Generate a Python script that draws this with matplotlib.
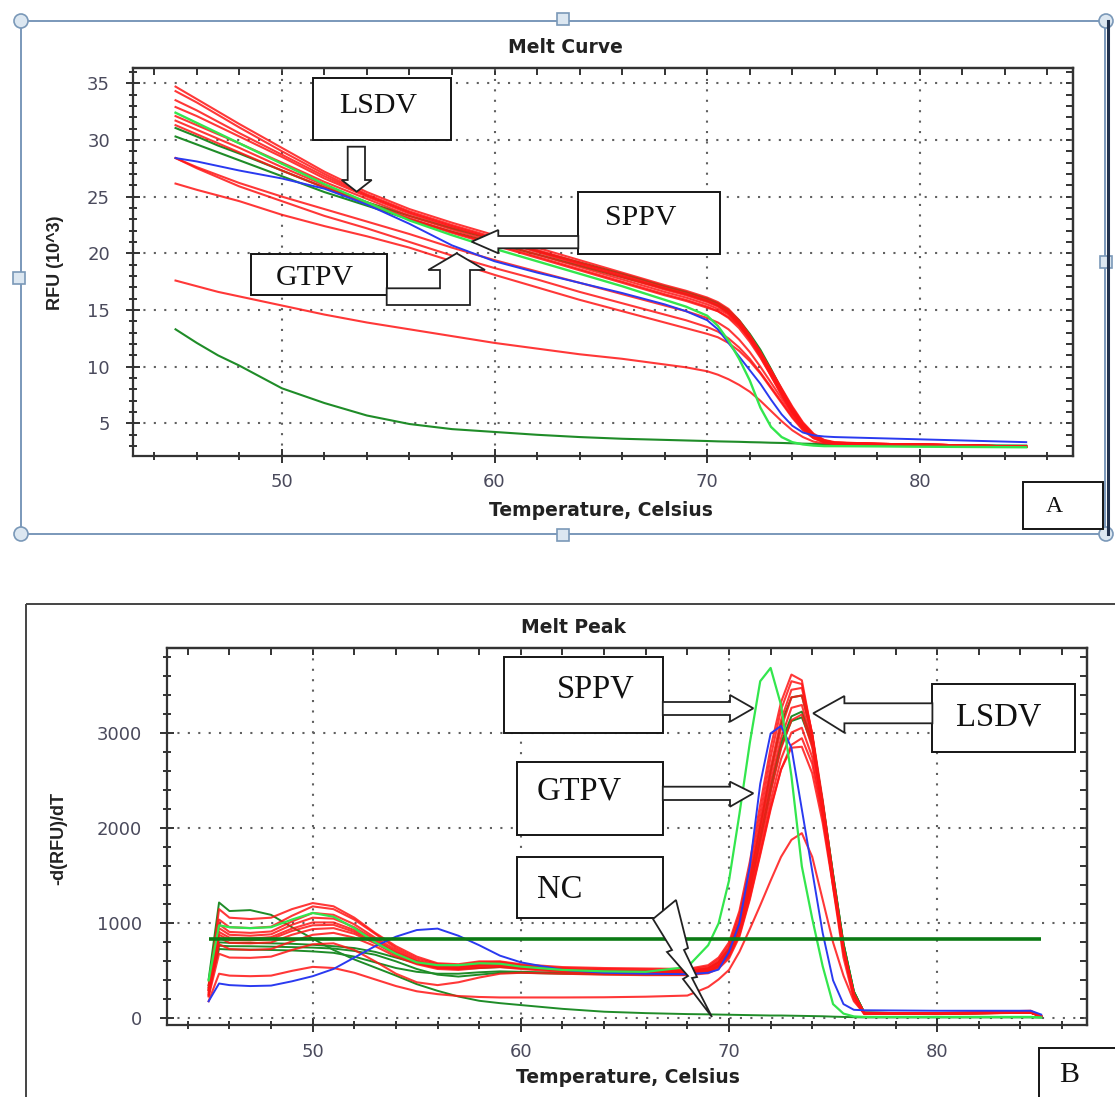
import matplotlib
matplotlib.use("Agg")
import matplotlib.pyplot as plt
from matplotlib.patches import Rectangle, Polygon, Circle
from matplotlib.ticker import MultipleLocator, FixedLocator

# ---------------- data ----------------
# A: melt curve, RFU (10^3) vs temperature
T_A = [45, 46, 47, 48, 50, 52, 54, 56, 58, 60, 62, 64, 66, 68, 69, 70, 70.5, 71,
       71.5, 72, 72.5, 73, 73.5, 74, 74.5, 75, 75.5, 76, 78, 80, 85]

lsdv_a = [
    [34.7, 33.6, 32.5, 31.4, 29.3, 27.2, 25.4, 23.9, 22.7, 21.6, 20.5, 19.4, 18.3, 17.2, 16.7, 16.1, 15.7, 15.1, 14.1, 12.8, 11.3, 9.6, 7.9, 6.3, 5.0, 4.0, 3.5, 3.3, 3.2, 3.15, 2.95],
    [34.3, 33.3, 32.2, 31.1, 29.0, 27.0, 25.2, 23.7, 22.5, 21.4, 20.3, 19.2, 18.1, 17.0, 16.5, 15.9, 15.5, 14.9, 13.9, 12.6, 11.1, 9.4, 7.7, 6.1, 4.8, 3.9, 3.45, 3.3, 3.2, 3.15, 2.95],
    [33.5, 32.6, 31.6, 30.6, 28.7, 26.8, 25.1, 23.6, 22.4, 21.3, 20.2, 19.1, 18.0, 16.9, 16.4, 15.8, 15.4, 14.8, 13.9, 12.7, 11.3, 9.7, 8.0, 6.4, 5.0, 4.0, 3.5, 3.3, 3.2, 3.15, 2.95],
    [32.9, 32.1, 31.2, 30.3, 28.5, 26.6, 25.0, 23.5, 22.3, 21.2, 20.1, 19.0, 17.9, 16.8, 16.3, 15.7, 15.3, 14.7, 13.7, 12.4, 10.9, 9.2, 7.5, 5.9, 4.7, 3.85, 3.4, 3.25, 3.2, 3.15, 2.95],
    [32.1, 31.3, 30.5, 29.7, 28.0, 26.3, 24.8, 23.3, 22.1, 21.0, 19.9, 18.8, 17.7, 16.6, 16.1, 15.5, 15.1, 14.6, 13.7, 12.5, 11.1, 9.5, 7.8, 6.2, 4.9, 3.95, 3.45, 3.3, 3.2, 3.15, 2.95],
    [31.7, 30.9, 30.1, 29.3, 27.6, 26.0, 24.5, 23.1, 21.9, 20.8, 19.7, 18.6, 17.5, 16.4, 15.9, 15.3, 14.9, 14.3, 13.4, 12.2, 10.8, 9.2, 7.5, 6.0, 4.7, 3.85, 3.4, 3.25, 3.2, 3.15, 2.95],
    [31.3, 30.5, 29.7, 28.9, 27.3, 25.8, 24.4, 23.0, 21.8, 20.7, 19.6, 18.5, 17.4, 16.3, 15.8, 15.2, 14.9, 14.4, 13.6, 12.5, 11.2, 9.7, 8.1, 6.5, 5.1, 4.1, 3.55, 3.35, 3.2, 3.15, 2.95],
    [28.4, 27.6, 26.9, 26.2, 25.0, 23.9, 22.8, 21.7, 20.5, 19.4, 18.4, 17.4, 16.4, 15.4, 14.9, 14.3, 13.9, 13.3, 12.4, 11.3, 10.0, 8.6, 7.2, 5.8, 4.6, 3.8, 3.4, 3.25, 3.2, 3.15, 2.95],
    [28.4, 27.5, 26.7, 25.9, 24.6, 23.3, 22.2, 21.0, 19.8, 18.7, 17.7, 16.6, 15.6, 14.6, 14.1, 13.5, 13.1, 12.5, 11.7, 10.7, 9.5, 8.2, 6.9, 5.6, 4.5, 3.7, 3.35, 3.2, 3.15, 3.1, 2.95],
    [26.15, 25.6, 25.1, 24.6, 23.4, 22.4, 21.5, 20.5, 19.3, 18.1, 17.0, 15.9, 14.9, 13.9, 13.4, 12.9, 12.6, 12.1, 11.4, 10.5, 9.4, 8.1, 6.8, 5.5, 4.4, 3.7, 3.35, 3.2, 3.15, 3.1, 2.95],
    [17.6, 17.1, 16.6, 16.2, 15.4, 14.6, 13.9, 13.3, 12.7, 12.1, 11.6, 11.1, 10.7, 10.2, 9.95, 9.6, 9.3, 8.9, 8.4, 7.8, 7.0, 6.1, 5.2, 4.4, 3.8, 3.4, 3.25, 3.2, 3.15, 3.1, 2.95],
]
dark_green_a = [
    [31.05, 30.3, 29.5, 28.8, 27.3, 25.8, 24.5, 23.3, 22.2, 21.2, 20.2, 19.2, 18.2, 17.1, 16.6, 16.0, 15.6, 15.0, 14.1, 12.9, 11.5, 9.8, 8.0, 6.3, 4.9, 3.9, 3.4, 3.25, 3.15, 3.1, 2.95],
    [30.3, 29.6, 28.9, 28.2, 26.8, 25.4, 24.2, 23.0, 21.9, 20.9, 19.9, 18.9, 17.9, 16.9, 16.4, 15.8, 15.4, 14.8, 13.9, 12.7, 11.3, 9.6, 7.9, 6.2, 4.8, 3.85, 3.4, 3.25, 3.15, 3.1, 2.95],
    [13.3, 12.1, 11.0, 10.1, 8.1, 6.8, 5.7, 4.95, 4.5, 4.25, 4.0, 3.8, 3.65, 3.55, 3.5, 3.45, 3.42, 3.4, 3.38, 3.35, 3.33, 3.3, 3.28, 3.25, 3.22, 3.2, 3.18, 3.15, 3.12, 3.1, 3.05],
]
sppv_a = [32.4, 31.5, 30.6, 29.7, 27.9, 26.1, 24.5, 22.9, 21.6, 20.4, 19.3, 18.2, 17.1, 15.9, 15.3, 14.5, 13.6, 12.3, 10.7, 8.8, 6.4, 4.7, 3.8, 3.35, 3.15, 3.05, 3.0, 3.0, 2.98, 2.95, 2.9]
gtpv_a = [28.4, 28.1, 27.7, 27.3, 26.6, 25.7, 24.3, 22.6, 20.7, 19.3, 18.3, 17.4, 16.5, 15.5, 14.9, 14.1, 13.3, 12.1, 10.9, 9.7, 8.5, 7.1, 5.8, 4.8, 4.2, 3.95, 3.85, 3.8, 3.7, 3.6, 3.35]

# B: melt peak, -d(RFU)/dT vs temperature
T_B = [45, 45.5, 46, 47, 48, 49, 50, 51, 52, 53, 54, 55, 56, 57, 58, 59, 60, 62, 64, 66,
       68, 69, 69.5, 70, 70.5, 71, 71.5, 72, 72.5, 73, 73.5, 74, 74.5, 75, 75.5, 76, 76.5, 80, 84.5, 85]

lsdv_b = [
    [300, 1150, 1060, 1046, 1060, 1150, 1214, 1180, 1060, 900, 760, 650, 580, 570, 600, 600, 570, 540, 530, 525, 520, 560, 640, 800, 1130, 1650, 2250, 2850, 3330, 3620, 3560, 2980, 2200, 1380, 640, 200, 45, 55, 80, 20],
    [350, 1040, 960, 951, 965, 1080, 1179, 1150, 1040, 890, 740, 630, 570, 560, 590, 595, 560, 530, 520, 515, 510, 545, 620, 770, 1090, 1580, 2150, 2750, 3250, 3550, 3520, 2980, 2250, 1450, 700, 230, 50, 55, 75, 20],
    [320, 990, 910, 900, 915, 1020, 1110, 1090, 990, 850, 720, 610, 555, 545, 575, 585, 555, 520, 505, 500, 500, 530, 600, 740, 1040, 1500, 2060, 2640, 3140, 3460, 3480, 3000, 2300, 1500, 750, 250, 55, 50, 70, 20],
    [300, 950, 880, 870, 885, 985, 1060, 1050, 960, 830, 700, 600, 545, 540, 570, 575, 545, 515, 500, 495, 495, 520, 585, 720, 1000, 1450, 2000, 2560, 3050, 3380, 3400, 2950, 2250, 1480, 730, 240, 50, 50, 65, 20],
    [280, 910, 850, 840, 855, 945, 1010, 1010, 930, 810, 690, 590, 540, 535, 560, 570, 540, 510, 495, 490, 490, 515, 575, 700, 970, 1400, 1930, 2480, 2950, 3270, 3300, 2900, 2200, 1450, 720, 240, 50, 50, 65, 20],
    [260, 880, 825, 820, 835, 920, 980, 985, 910, 800, 680, 585, 535, 530, 555, 560, 535, 505, 490, 485, 485, 505, 560, 680, 940, 1350, 1860, 2380, 2840, 3140, 3200, 2850, 2200, 1450, 730, 250, 55, 50, 60, 20],
    [250, 850, 795, 790, 800, 880, 940, 950, 890, 790, 670, 580, 530, 520, 545, 550, 530, 500, 485, 480, 480, 500, 550, 660, 900, 1300, 1790, 2290, 2730, 3010, 3060, 2750, 2150, 1420, 720, 250, 55, 50, 60, 20],
    [230, 680, 640, 637, 650, 720, 780, 790, 720, 600, 470, 380, 350, 380, 430, 470, 480, 470, 460, 455, 455, 475, 525, 630, 860, 1250, 1720, 2200, 2620, 2880, 2950, 2680, 2120, 1420, 720, 260, 60, 50, 60, 20],
    [240, 780, 730, 720, 730, 810, 880, 900, 850, 760, 650, 570, 520, 510, 530, 540, 520, 490, 475, 470, 470, 490, 540, 650, 880, 1270, 1740, 2220, 2620, 2850, 2860, 2580, 2060, 1390, 710, 250, 55, 50, 60, 20],
    [180, 470, 450, 444, 450, 500, 542, 530, 480, 410, 340, 285, 255, 235, 225, 220, 220, 220, 222, 228, 240, 330, 410, 510, 700, 940, 1190, 1450, 1700, 1880, 1950, 1700, 1250, 800, 450, 180, 50, 45, 60, 20],
]
dark_green_b = [
    [410, 1220, 1130, 1140, 1090, 960, 840, 720, 620, 535, 450, 360, 290, 230, 185, 160, 140, 100, 70, 55, 45, 42, 40, 38, 36, 34, 32, 30, 30, 28, 26, 24, 22, 18, 15, 12, 10, 10, 10, 8],
    [350, 800, 795, 794, 790, 785, 775, 760, 740, 700, 640, 580, 540, 520, 530, 540, 530, 510, 500, 495, 495, 525, 590, 730, 1010, 1460, 2020, 2600, 3100, 3380, 3400, 2980, 2280, 1520, 790, 280, 60, 50, 60, 20],
    [330, 765, 760, 759, 755, 750, 745, 735, 710, 670, 600, 520, 460, 440, 460, 480, 480, 470, 465, 460, 460, 490, 550, 680, 940, 1360, 1880, 2400, 2860, 3130, 3170, 2880, 2250, 1500, 780, 280, 60, 50, 60, 20],
    [300, 730, 725, 724, 720, 715, 705, 690, 650, 590, 530, 490, 470, 470, 485, 495, 490, 480, 470, 465, 465, 495, 555, 690, 950, 1380, 1900, 2440, 2900, 3180, 3230, 2920, 2280, 1520, 790, 285, 60, 50, 60, 20],
]
sppv_b = [400, 980, 960, 950, 960, 1040, 1110, 1070, 950, 800, 680, 590, 560, 560, 580, 575, 545, 510, 495, 490, 540, 770, 1000, 1450, 2150, 2900, 3550, 3690, 3300, 2550, 1600, 1050, 550, 150, 50, 20, 15, 15, 15, 10]
gtpv_b = [180, 367, 350, 340, 345, 390, 444, 520, 640, 760, 860, 930, 945, 870, 770, 660, 590, 510, 480, 470, 465, 480, 514, 700, 1000, 1600, 2470, 3000, 3080, 2850, 2200, 1550, 900, 400, 150, 90, 85, 80, 80, 40]
threshold_b = 840

RED = "#ff1515"
LGREEN = "#33e64d"
DGREEN = "#1f8c28"
BLUE = "#2a3af0"

W, H = 1115, 1097
fig = plt.figure(figsize=(W / 100, H / 100), dpi=100)


def px_rect(x0, y0, x1, y1):
    # pixel box (y down) -> figure fraction rect
    return [x0 / W, 1 - y1 / H, (x1 - x0) / W, (y1 - y0) / H]


def style(ax, ylim, ystep, yminor, ypad, xpad):
    ax.set_xlim(43, 87.2)
    ax.set_ylim(*ylim)
    ax.xaxis.set_major_locator(FixedLocator([50, 60, 70, 80]))
    ax.xaxis.set_minor_locator(MultipleLocator(2))
    ax.yaxis.set_major_locator(MultipleLocator(ystep))
    ax.yaxis.set_minor_locator(MultipleLocator(yminor))
    ax.set_axisbelow(True)
    ax.grid(True, which="major", color="#606060", lw=1.5, ls=(0, (1, 4)))
    for s in ax.spines.values():
        s.set_color("#333333")
        s.set_linewidth(1.6)
    ax.tick_params(which="both", direction="inout", color="#333333", width=1.4,
                   labelcolor="#4a4a5c", labelsize=13)
    ax.tick_params(which="major", length=10)
    ax.tick_params(which="minor", length=6)
    ax.tick_params(axis="y", which="both", pad=ypad)
    ax.tick_params(axis="x", which="both", pad=xpad)
    # inward ticks on the top and right frame
    top = ax.secondary_xaxis("top")
    top.xaxis.set_major_locator(FixedLocator([50, 60, 70, 80]))
    top.xaxis.set_minor_locator(MultipleLocator(2))
    top.tick_params(which="both", direction="in", labeltop=False, color="#333333", width=1.4, length=5)
    right = ax.secondary_yaxis("right")
    right.yaxis.set_major_locator(MultipleLocator(ystep))
    right.yaxis.set_minor_locator(MultipleLocator(yminor))
    right.tick_params(which="both", direction="in", labelright=False, color="#333333", width=1.4, length=5)
    for sec in (top, right):
        for s in sec.spines.values():
            s.set_color("#333333")
            s.set_linewidth(1.6)


# ---------------- panel A ----------------
axA = fig.add_axes(px_rect(133, 68, 1073, 456))
for c in dark_green_a:
    axA.plot(T_A, c, color=DGREEN, lw=1.5)
for c in lsdv_a:
    axA.plot(T_A, c, color=RED, lw=1.5, alpha=0.85)
axA.plot(T_A, gtpv_a, color=BLUE, lw=1.4)
axA.plot(T_A, sppv_a, color=LGREEN, lw=1.7)
style(axA, (2.13, 36.34), 5, 1, 11.5, 7)

# ---------------- panel B ----------------
axB = fig.add_axes(px_rect(167, 648, 1087, 1025))
for c in dark_green_b:
    axB.plot(T_B, c, color=DGREEN, lw=1.4)
for c in lsdv_b:
    axB.plot(T_B, c, color=RED, lw=1.5, alpha=0.85)
axB.plot(T_B, gtpv_b, color=BLUE, lw=1.4)
axB.plot(T_B, sppv_b, color=LGREEN, lw=1.6)
axB.hlines(threshold_b, T_B[0], T_B[-1], color="#0b7a14", lw=2.6)
style(axB, (-70, 3900), 1000, 200, 13, 8)

# ---------------- overlay in pixel coordinates ----------------
ov = fig.add_axes([0, 0, 1, 1], zorder=10)
ov.set_xlim(0, W)
ov.set_ylim(H, 0)
ov.axis("off")

# frame of the selected picture A, with its handles
ov.add_patch(Rectangle((21, 21), 1084, 513, fill=False, ec="#7090b4", lw=1.3))
ov.plot([1107.5, 1107.5], [21, 534], color="#22324d", lw=2.2)
for cx, cy in [(21, 21), (1106, 21), (21, 534), (1106, 534)]:
    ov.add_patch(Circle((cx, cy), 7, fc="#dce7f1", ec="#7a98b8", lw=1.2))
for cx, cy in [(563, 19), (563, 535), (19, 278), (1106, 262)]:
    ov.add_patch(Rectangle((cx - 6, cy - 6), 12, 12, fc="#dce7f1", ec="#7a98b8", lw=1.2))

# frame of picture B
ov.add_patch(Rectangle((26, 603.5), 1200, 600, fill=False, ec="#444444", lw=1.4))

sans = dict(ha="center", color="#222222", fontsize=13.5, fontweight="bold")
ov.text(565, 53.4, "Melt Curve", va="baseline", **sans)
ov.text(600.5, 516, "Temperature, Celsius", va="baseline", **sans)
ov.text(573.8, 633.3, "Melt Peak", va="baseline", **sans)
ov.text(627.5, 1083.3, "Temperature, Celsius", va="baseline", **sans)
ov.text(56, 263, "RFU (10^3)", rotation=90, ha="center", va="center", color="#222222",
        fontsize=13, fontweight="bold", family="Liberation Sans")
ov.text(59, 838, "-d(RFU)/dT", rotation=90, ha="center", va="center", color="#222222",
        fontsize=13, fontweight="bold", family="Liberation Sans")

# label boxes
boxes = [
    (312.5, 78.3, 450.7, 139.7), (578.3, 191.7, 720, 254), (250.7, 254, 386.7, 295),
    (1023.3, 482, 1103, 529),
    (504.3, 656.7, 662.8, 732.7), (516.8, 761.7, 662.8, 835), (516.8, 856.7, 662.8, 917.7),
    (932.4, 684.3, 1074.6, 751.7), (1039.4, 1048.3, 1130, 1110),
]
for x0, y0, x1, y1 in boxes:
    ov.add_patch(Rectangle((x0, y0), x1 - x0, y1 - y0, fc="white", ec="#151515", lw=1.4))

# hollow block arrows
arrows = [
    [(347.7, 146.7), (365, 146.7), (365, 180), (371.7, 180), (356.7, 191.7), (341.7, 180), (347.7, 180)],
    [(578.3, 236), (498.3, 236), (498.3, 230), (471.7, 241.7), (498.3, 253.3), (498.3, 248.3), (578.3, 248.3)],
    [(386.7, 288.3), (440, 288.3), (440, 270), (428.3, 270), (456.7, 253.3), (485, 270), (470, 270), (470, 305), (386.7, 305)],
    [(662.8, 702), (730, 702), (730, 695), (753.3, 708.3), (730, 721.7), (730, 715), (662.8, 715)],
    [(662.8, 786.7), (730, 786.7), (730, 781.7), (753.3, 793.3), (730, 806.7), (730, 800), (662.8, 800)],
    [(932.4, 703.3), (844.4, 703.3), (844.4, 696), (813.2, 713.3), (844.4, 732.7), (844.4, 723.3), (932.4, 723.3)],
    [(653, 919), (676, 900), (688, 948), (684, 950), (697, 977), (692, 978), (712, 1017), (683, 979), (688, 976), (667, 952), (672, 950)],
]
for pts in arrows:
    ov.add_patch(Polygon(pts, closed=True, fc="white", ec="#222222", lw=1.3))

serif = dict(ha="center", va="baseline", color="#111111", family="Liberation Serif")
ov.text(378, 113.3, "LSDV", fontsize=21.5, **serif)
ov.text(640.8, 225, "SPPV", fontsize=21.5, **serif)
ov.text(315, 285, "GTPV", fontsize=21.5, **serif)
ov.text(1054, 512, "A", fontsize=17, **serif)
ov.text(596, 697.3, "SPPV", fontsize=23.5, **serif)
ov.text(579.5, 800, "GTPV", fontsize=23.5, **serif)
ov.text(559.5, 898, "NC", fontsize=23.5, **serif)
ov.text(998.4, 725, "LSDV", fontsize=23.5, **serif)
ov.text(1068.8, 1081.7, "B", fontsize=21.5, **serif)

fig.savefig("out.png", dpi=100)
